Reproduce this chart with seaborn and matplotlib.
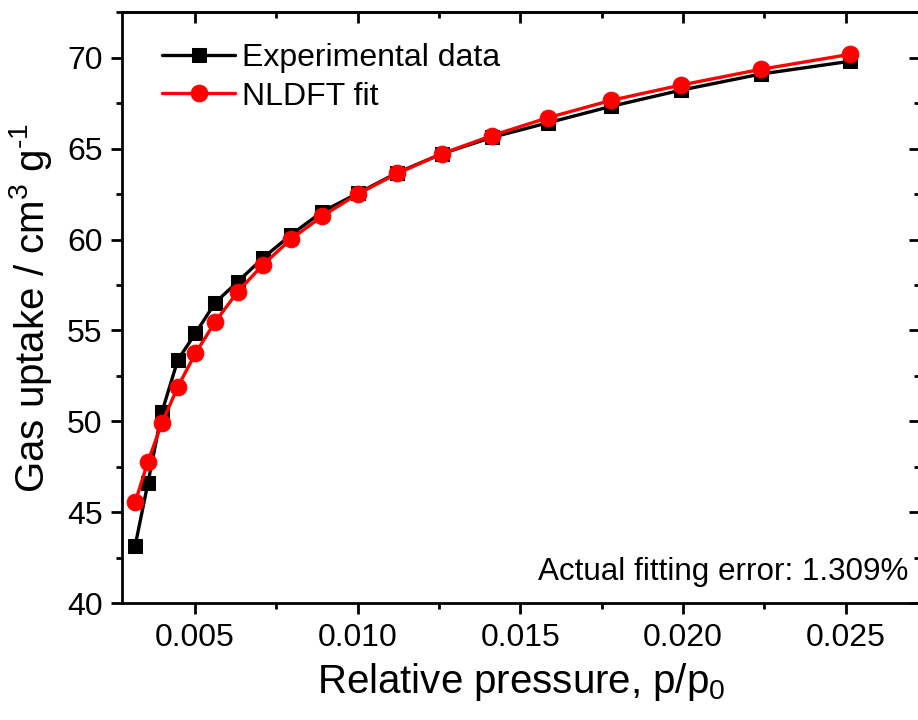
import matplotlib
matplotlib.use("Agg")
import matplotlib.pyplot as plt
import seaborn as sns
import pandas as pd
from matplotlib.ticker import MultipleLocator, FormatStrFormatter, NullFormatter

# ---- data ----
pressure = [0.00316, 0.00355, 0.00398, 0.00447, 0.00501, 0.00562, 0.00631, 0.00708,
            0.00794, 0.00891, 0.01000, 0.01122, 0.01259, 0.01413, 0.01585, 0.01778,
            0.01995, 0.02239, 0.02512]
experimental = [43.17, 46.60, 50.50, 53.38, 54.84, 56.53, 57.68, 58.97, 60.25, 61.53,
                62.54, 63.68, 64.72, 65.62, 66.42, 67.32, 68.22, 69.10, 69.80]
nldft_fit = [45.55, 47.78, 49.90, 51.90, 53.74, 55.48, 57.13, 58.60, 60.01, 61.29,
             62.50, 63.64, 64.72, 65.72, 66.70, 67.65, 68.50, 69.36, 70.18]
series_names = ["Experimental data", "NLDFT fit"]
annotation = "Actual fitting error: 1.309%"

sns.set_theme(style="ticks")
plt.rcParams['font.family'] = ['Liberation Sans', 'DejaVu Sans']
plt.rcParams['mathtext.fontset'] = 'custom'
plt.rcParams['mathtext.rm'] = 'Liberation Sans'
plt.rcParams['mathtext.it'] = 'Liberation Sans'
plt.rcParams['text.color'] = 'black'
plt.rcParams['axes.labelcolor'] = 'black'
plt.rcParams['xtick.color'] = 'black'
plt.rcParams['ytick.color'] = 'black'

df_exp = pd.DataFrame({"x": pressure, "y": experimental})
df_fit = pd.DataFrame({"x": pressure, "y": nldft_fit})

fig = plt.figure(figsize=(9.18, 7.2), dpi=100)
ax = fig.add_axes([122/918, 1 - 603.3/720, (920 - 122)/918, (603.3 - 12.2)/720])

sns.lineplot(data=df_exp, x="x", y="y", ax=ax, color="black", marker="s",
             markersize=10.5, markeredgecolor="black", linewidth=2.4, label=series_names[0])
sns.lineplot(data=df_fit, x="x", y="y", ax=ax, color="#ff0000", marker="o",
             markersize=12, markeredgecolor="#ff0000", linewidth=2.4, label=series_names[1])

ax.set_xlim(0.002755, 0.02728)
ax.set_ylim(40, 72.5)
ax.xaxis.set_major_locator(MultipleLocator(0.005))
ax.xaxis.set_minor_locator(MultipleLocator(0.0025))
ax.xaxis.set_major_formatter(FormatStrFormatter('%.3f'))
ax.yaxis.set_major_locator(MultipleLocator(5))
ax.yaxis.set_minor_locator(MultipleLocator(2.5))

for sp in ax.spines.values():
    sp.set_visible(True)
    sp.set_linewidth(2.0)
    sp.set_color('black')

ax.tick_params(axis='both', which='major', length=8, width=2.0, labelsize=23,
               colors='black', pad=6, direction='out', top=False, right=False)
ax.tick_params(axis='both', which='minor', length=4.5, width=2.0, colors='black',
               direction='out', top=False, right=False)

# mirrored inward ticks on top and right
secx = ax.secondary_xaxis('top')
secx.xaxis.set_major_locator(MultipleLocator(0.005))
secx.xaxis.set_minor_locator(MultipleLocator(0.0025))
secx.xaxis.set_major_formatter(NullFormatter())
secx.tick_params(which='major', direction='in', length=8, width=2.0, colors='black')
secx.tick_params(which='minor', direction='in', length=4.5, width=2.0, colors='black')
secx.spines['top'].set_linewidth(2.0)
secy = ax.secondary_yaxis('right')
secy.yaxis.set_major_locator(MultipleLocator(5))
secy.yaxis.set_minor_locator(MultipleLocator(2.5))
secy.yaxis.set_major_formatter(NullFormatter())
secy.tick_params(which='major', direction='in', length=8, width=2.0, colors='black')
secy.tick_params(which='minor', direction='in', length=4.5, width=2.0, colors='black')
secy.spines['right'].set_linewidth(2.0)

ax.set_xlabel("Relative pressure, p/p$_0$", fontsize=29, color='black', labelpad=6)
ax.set_ylabel("Gas uptake / cm$^3$ g$^{\\text{-}1}$", fontsize=29, color='black', labelpad=9)

leg = ax.legend(loc='upper left', frameon=False, fontsize=23, handlelength=2.28,
                handletextpad=0.2, labelspacing=0.28, borderaxespad=0.5,
                bbox_to_anchor=(0.0146, 0.997))
for h in leg.legend_handles:
    h.set_linewidth(2.4)
for t in leg.get_texts():
    t.set_color('black')

ax.text((908 - 122)/798, (603.3 - 580)/591.1, annotation, transform=ax.transAxes,
        ha='right', va='baseline', fontsize=22.6, color='black')

fig.savefig("out.png", dpi=100)
